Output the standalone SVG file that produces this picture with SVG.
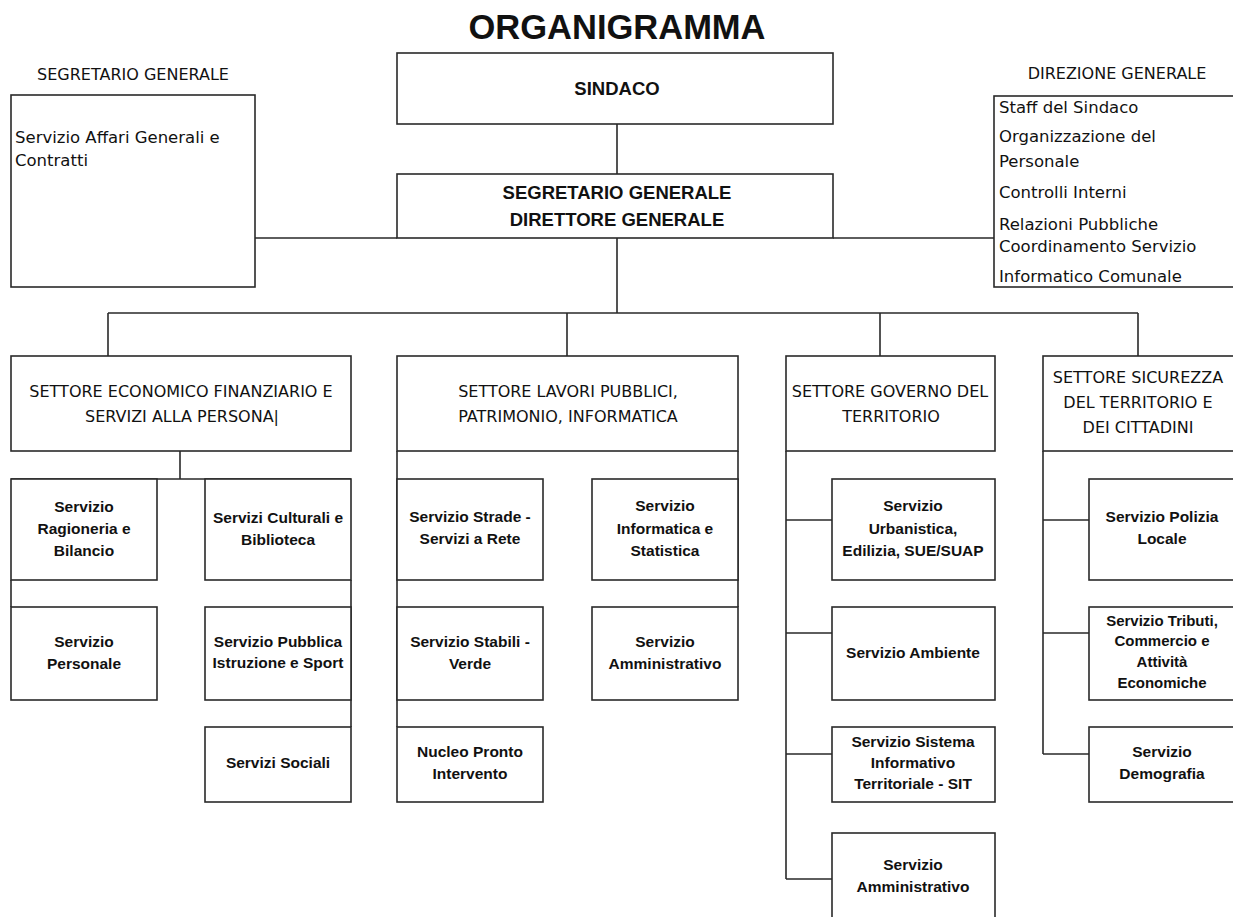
<svg xmlns="http://www.w3.org/2000/svg" width="1233" height="917" viewBox="0 0 1233 917">
<style>
.bx{fill:#fff;stroke:#2a2a2a;stroke-width:1.6}
.ln{fill:none;stroke:#2a2a2a;stroke-width:1.6}
text{fill:#111}
.t{font-family:"Liberation Sans",Arial,sans-serif;font-weight:bold;font-size:34.5px;text-anchor:middle}
.m{font-family:"Liberation Sans",Arial,sans-serif;font-weight:bold;font-size:18.5px;text-anchor:middle}
.h{font-family:"DejaVu Sans",Verdana,sans-serif;font-size:16px;text-anchor:middle}
.l{font-family:"DejaVu Sans",Verdana,sans-serif;font-size:16.5px}
.b{font-family:"Liberation Sans",Arial,sans-serif;font-weight:bold;font-size:15.5px;text-anchor:middle}
.s{font-family:"Liberation Sans",Arial,sans-serif;font-weight:bold;font-size:15px;text-anchor:middle}
</style>
<text class="t" x="617" y="39">ORGANIGRAMMA</text>

<g id="connectors">
<path class="ln" d="M617 124V174M255 238H397M833 238H994M617 238V313M108 313H1138M108 313V356M567 313V356M880 313V356M1138 313V356"/>
<path class="ln" d="M180 451V479M11 479H351M11 580V607M351 580V727"/>
<path class="ln" d="M397 451V727M738 451V607"/>
<path class="ln" d="M786 451V879M786 520H832M786 633H832M786 754H832M786 879H832"/>
<path class="ln" d="M1043 451V754M1043 520H1089M1043 633H1089M1043 754H1089"/>
</g>

<g id="segretario-sx">
<text class="h" x="133" y="80">SEGRETARIO GENERALE</text>
<rect class="bx" x="11" y="95" width="244" height="192"/>
<text class="l" x="15" y="143">Servizio Affari Generali e</text>
<text class="l" x="15" y="166">Contratti</text>
</g>

<g id="sindaco">
<rect class="bx" x="397" y="53" width="436" height="71"/>
<text class="m" x="617" y="95">SINDACO</text>
</g>

<g id="segretario-direttore">
<rect class="bx" x="397" y="174" width="436" height="64"/>
<text class="m" x="617" y="199">SEGRETARIO GENERALE</text>
<text class="m" x="617" y="226">DIRETTORE GENERALE</text>
</g>

<g id="direzione-generale">
<text class="h" x="1117" y="79">DIREZIONE GENERALE</text>
<rect class="bx" x="994" y="96" width="250" height="191"/>
<text class="l" x="999" y="113">Staff del Sindaco</text>
<text class="l" x="999" y="142">Organizzazione del</text>
<text class="l" x="999" y="167">Personale</text>
<text class="l" x="999" y="198">Controlli Interni</text>
<text class="l" x="999" y="230">Relazioni Pubbliche</text>
<text class="l" x="999" y="252">Coordinamento Servizio</text>
<text class="l" x="999" y="282">Informatico Comunale</text>
</g>

<g id="settore-economico">
<rect class="bx" x="11" y="356" width="340" height="95"/>
<text class="h" x="181" y="397">SETTORE ECONOMICO FINANZIARIO E</text>
<text class="h" x="182" y="422">SERVIZI ALLA PERSONA|</text>
</g>
<g id="ragioneria">
<rect class="bx" x="11" y="479" width="146" height="101"/>
<text class="b" x="84" y="512">Servizio</text>
<text class="b" x="84" y="534">Ragioneria e</text>
<text class="b" x="84" y="556">Bilancio</text>
</g>
<g id="culturali">
<rect class="bx" x="205" y="479" width="146" height="101"/>
<text class="b" x="278" y="523">Servizi Culturali e</text>
<text class="b" x="278" y="545">Biblioteca</text>
</g>
<g id="personale">
<rect class="bx" x="11" y="607" width="146" height="93"/>
<text class="b" x="84" y="647">Servizio</text>
<text class="b" x="84" y="669">Personale</text>
</g>
<g id="istruzione">
<rect class="bx" x="205" y="607" width="146" height="93"/>
<text class="b" x="278" y="647">Servizio Pubblica</text>
<text class="b" x="278" y="668">Istruzione e Sport</text>
</g>
<g id="sociali">
<rect class="bx" x="205" y="727" width="146" height="75"/>
<text class="b" x="278" y="768">Servizi Sociali</text>
</g>

<g id="settore-lavori">
<rect class="bx" x="397" y="356" width="341" height="95"/>
<text class="h" x="568" y="397">SETTORE LAVORI PUBBLICI,</text>
<text class="h" x="568" y="422">PATRIMONIO, INFORMATICA</text>
</g>
<g id="strade">
<rect class="bx" x="397" y="479" width="146" height="101"/>
<text class="b" x="470" y="522">Servizio Strade -</text>
<text class="b" x="470" y="544">Servizi a Rete</text>
</g>
<g id="informatica">
<rect class="bx" x="592" y="479" width="146" height="101"/>
<text class="b" x="665" y="511">Servizio</text>
<text class="b" x="665" y="534">Informatica e</text>
<text class="b" x="665" y="556">Statistica</text>
</g>
<g id="stabili">
<rect class="bx" x="397" y="607" width="146" height="93"/>
<text class="b" x="470" y="647">Servizio Stabili -</text>
<text class="b" x="470" y="669">Verde</text>
</g>
<g id="amministrativo-lp">
<rect class="bx" x="592" y="607" width="146" height="93"/>
<text class="b" x="665" y="647">Servizio</text>
<text class="b" x="665" y="669">Amministrativo</text>
</g>
<g id="nucleo">
<rect class="bx" x="397" y="727" width="146" height="75"/>
<text class="b" x="470" y="757">Nucleo Pronto</text>
<text class="b" x="470" y="779">Intervento</text>
</g>

<g id="settore-governo">
<rect class="bx" x="786" y="356" width="209" height="95"/>
<text class="h" x="890" y="397">SETTORE GOVERNO DEL</text>
<text class="h" x="891" y="422">TERRITORIO</text>
</g>
<g id="urbanistica">
<rect class="bx" x="832" y="479" width="163" height="101"/>
<text class="b" x="913" y="511">Servizio</text>
<text class="b" x="913" y="534">Urbanistica,</text>
<text class="b" x="913" y="556">Edilizia, SUE/SUAP</text>
</g>
<g id="ambiente">
<rect class="bx" x="832" y="607" width="163" height="93"/>
<text class="b" x="913" y="658">Servizio Ambiente</text>
</g>
<g id="sit">
<rect class="bx" x="832" y="727" width="163" height="75"/>
<text class="b" x="913" y="747">Servizio Sistema</text>
<text class="b" x="913" y="768">Informativo</text>
<text class="b" x="913" y="789">Territoriale - SIT</text>
</g>
<g id="amministrativo-gt">
<rect class="bx" x="832" y="833" width="163" height="100"/>
<text class="b" x="913" y="870">Servizio</text>
<text class="b" x="913" y="892">Amministrativo</text>
</g>

<g id="settore-sicurezza">
<rect class="bx" x="1043" y="356" width="200" height="95"/>
<text class="h" x="1138" y="383">SETTORE SICUREZZA</text>
<text class="h" x="1138" y="408">DEL TERRITORIO E</text>
<text class="h" x="1138" y="433">DEI CITTADINI</text>
</g>
<g id="polizia">
<rect class="bx" x="1089" y="479" width="154" height="101"/>
<text class="b" x="1162" y="522">Servizio Polizia</text>
<text class="b" x="1162" y="544">Locale</text>
</g>
<g id="tributi">
<rect class="bx" x="1089" y="607" width="154" height="93"/>
<text class="s" x="1162" y="626">Servizio Tributi,</text>
<text class="s" x="1162" y="646">Commercio e</text>
<text class="s" x="1162" y="667">Attività</text>
<text class="s" x="1162" y="688">Economiche</text>
</g>
<g id="demografia">
<rect class="bx" x="1089" y="727" width="154" height="75"/>
<text class="b" x="1162" y="757">Servizio</text>
<text class="b" x="1162" y="779">Demografia</text>
</g>
</svg>
